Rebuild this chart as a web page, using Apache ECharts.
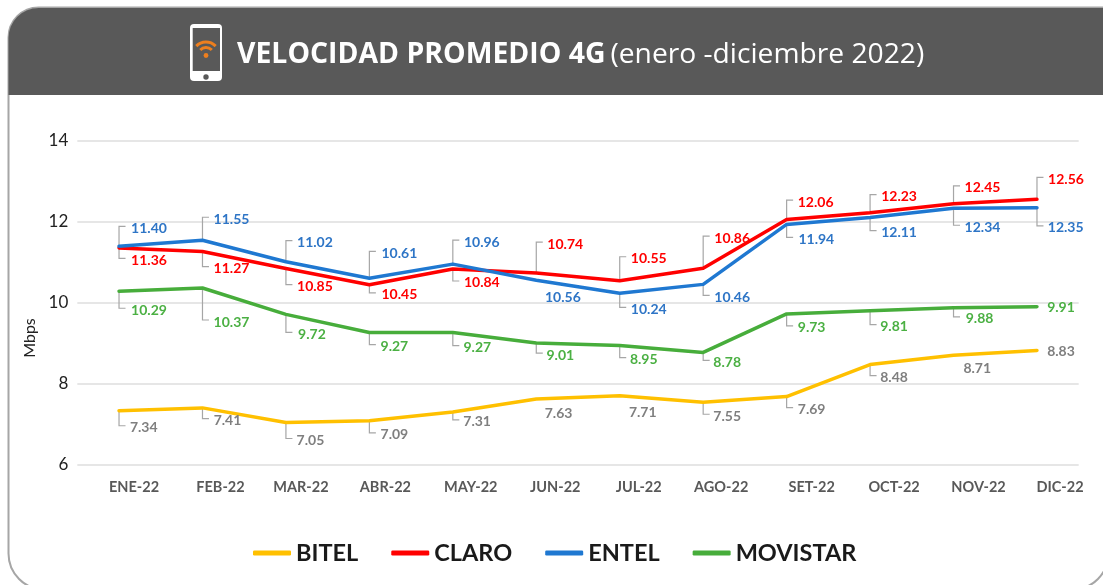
<!DOCTYPE html>
<html><head><meta charset="utf-8">
<style>html,body{margin:0;padding:0;background:#fff}#c{width:1103px;height:585px}</style>
<script src="https://cdn.jsdelivr.net/npm/echarts@6/dist/echarts.min.js"></script>
</head><body><div id="c"></div>
<script>
const categories = ['ENE-22','FEB-22','MAR-22','ABR-22','MAY-22','JUN-22','JUL-22','AGO-22','SET-22','OCT-22','NOV-22','DIC-22'];
const yTicks = [6,8,10,12,14];
const bitel    = [7.34,7.41,7.05,7.09,7.31,7.63,7.71,7.55,7.69,8.48,8.71,8.83];
const claro    = [11.36,11.27,10.85,10.45,10.84,10.74,10.55,10.86,12.06,12.23,12.45,12.56];
const entel    = [11.40,11.55,11.02,10.61,10.96,10.56,10.24,10.46,11.94,12.11,12.34,12.35];
const movistar = [10.29,10.37,9.72,9.27,9.27,9.01,8.95,8.78,9.73,9.81,9.88,9.91];

// label placement relative to each point (layout only)
const bitelDx = [24.7,25,24.5,25,24.3,22.3,23,24,25,24,23.7,24];
const bitelDy = [17,12.7,18,14,10,14,17,14,13,13,13,1];
const bitelBr = [1,1,1,1,1,0,0,1,1,1,0,0];
const claroDx = [30,29,29,30,29,29,29,29,29,29,29,29];
const claroDy = [12.5,17,18,10,14,-29,-22,-30,-17.5,-16,-16,-20];
const claroBr = [1,1,1,1,1,1,1,1,1,1,1,1];
const entelDx = [30,29,29,30,29,26.6,29,29,29.7,29,29,28.7];
const entelDy = [-18,-21,-19,-25,-22,17,16,13,15,15,19,20];
const entelBr = [1,1,1,1,1,0,1,1,1,1,1,1];
const movDx = [30,29,26,25,24.5,24,24,24,25,24,26,24];
const movDy = [19,34,20,14,15,12,14,10,14,16,11,1];
const movBr = [1,1,1,1,1,1,1,1,1,1,1,0];
const xLabelShift = [15,18,15,16,18,19,19,18,25,24,25,23];

const FONT = 'Lato';
const rich = {};
categories.forEach((c,i)=>{ rich['c'+i] = {fontFamily:FONT,fontWeight:'bold',fontSize:14.5,color:'#595959',padding:[0,0,0,2*xLabelShift[i]]}; });

function lineSeries(name, values, color, labelColor, dx, dy){
  return {
    name, type:'line', smooth:false, symbol:'circle', symbolSize:1, z:3,
    lineStyle:{color, width:3.5, cap:'round', join:'round'},
    itemStyle:{color},
    label:{show:true, position:'inside', align:'center', verticalAlign:'middle', color:labelColor, fontFamily:FONT, fontWeight:'bold', fontSize:14, formatter:p=>p.value.toFixed(2)},
    data: values.map((v,i)=>({value:v, label:{offset:[dx[i],dy[i]], color:labelColor}}))
  };
}
function bracketSeries(values, dy, show){
  return {
    type:'custom', z:2, silent:true, legendHoverLink:false, tooltip:{show:false},
    encode:{x:0,y:1},
    data: values.map((v,i)=>[i,v]),
    renderItem(params, api){
      const i = params.dataIndex;
      if(!show[i]) return null;
      const p = api.coord([api.value(0), api.value(1)]);
      const y = p[1] + dy[i] - 2;
      return {type:'polyline', shape:{points:[[p[0],p[1]],[p[0],y],[p[0]+6.5,y]]}, style:{stroke:'#a6a6a6', lineWidth:1.2, fill:null}};
    }
  };
}

const chart = echarts.init(document.getElementById('c'), null, {renderer:'canvas'});
chart.setOption({
  animation:false,
  backgroundColor:'#ffffff',
  color:['#ffc000','#ff0000','#1f78d1','#47ad3b'],
  title:{
    left:232, top:36,
    text:'{b|VELOCIDAD PROMEDIO 4G} {n|(enero -diciembre 2022)}',
    textStyle:{rich:{
      b:{fontFamily:'Open Sans',fontWeight:'bold',fontSize:28.4,color:'#ffffff'},
      n:{fontFamily:'Open Sans',fontWeight:'normal',fontSize:28.2,color:'#ffffff'}
    }}
  },
  legend:{
    left:248, top:536, icon:'roundRect', itemWidth:38, itemHeight:5, itemGap:33,
    data:['BITEL','CLARO','ENTEL','MOVISTAR'],
    textStyle:{fontFamily:FONT,fontWeight:'bold',fontSize:23.5,color:'#1a1a1a'}
  },
  grid:{left:77.3, top:141, width:1001.4, height:324},
  xAxis:{
    type:'category', data:categories, boundaryGap:true,
    axisLine:{show:false}, axisTick:{show:false},
    axisLabel:{margin:15, interval:0, rich, formatter:(v,i)=>`{c${i}|${v}}`}
  },
  yAxis:{
    type:'value', min:yTicks[0], max:yTicks[yTicks.length-1], interval:2,
    name:'Mbps', nameLocation:'middle', nameGap:24, nameRotate:90,
    nameTextStyle:{fontFamily:FONT,fontSize:16,color:'#222222',padding:[0,70,0,0]},
    axisLine:{show:false}, axisTick:{show:false},
    axisLabel:{margin:9,fontFamily:FONT,fontSize:17,color:'#222222'},
    splitLine:{lineStyle:{color:'#dedede',width:1.5}}
  },
  series:[
    bracketSeries(bitel,bitelDy,bitelBr),
    bracketSeries(claro,claroDy,claroBr),
    bracketSeries(entel,entelDy,entelBr),
    bracketSeries(movistar,movDy,movBr),
    lineSeries('BITEL',bitel,'#ffc000','#7f7f7f',bitelDx,bitelDy),
    lineSeries('CLARO',claro,'#ff0000','#ff0000',claroDx,claroDy),
    lineSeries('ENTEL',entel,'#1f78d1','#2e75c6',entelDx,entelDy),
    lineSeries('MOVISTAR',movistar,'#47ad3b','#4bb043',movDx,movDy)
  ],
  graphic:[
    {type:'rect',z:-10,shape:{x:8.5,y:7.5,width:1100,height:582,r:[30,0,36,36]},style:{fill:'#ffffff',stroke:'#a6a6a6',lineWidth:2}},
    {type:'rect',z:-9,shape:{x:8.5,y:8,width:1101,height:87,r:[30,0,0,0]},style:{fill:'#595959'}},
    {type:'rect',z:-8,shape:{x:190,y:24,width:32,height:57,r:4},style:{fill:'#ffffff'}},
    {type:'rect',z:-7,shape:{x:192.7,y:28,width:27.3,height:43},style:{fill:'#595959'}},
    {type:'circle',z:-7,shape:{cx:206,cy:77,r:2.7},style:{fill:'#595959'}},
    {type:'arc',z:-6,shape:{cx:206,cy:55.5,r:13.5,startAngle:-Math.PI/2-0.8,endAngle:-Math.PI/2+0.8,clockwise:true},style:{stroke:'#ee7f1e',lineWidth:3,fill:null}},
    {type:'arc',z:-6,shape:{cx:206,cy:55.5,r:8,startAngle:-Math.PI/2-0.8,endAngle:-Math.PI/2+0.8,clockwise:true},style:{stroke:'#ee7f1e',lineWidth:3,fill:null}},
    {type:'circle',z:-6,shape:{cx:206,cy:55.5,r:2.4},style:{fill:'#ee7f1e'}}
  ]
});
</script></body></html>
